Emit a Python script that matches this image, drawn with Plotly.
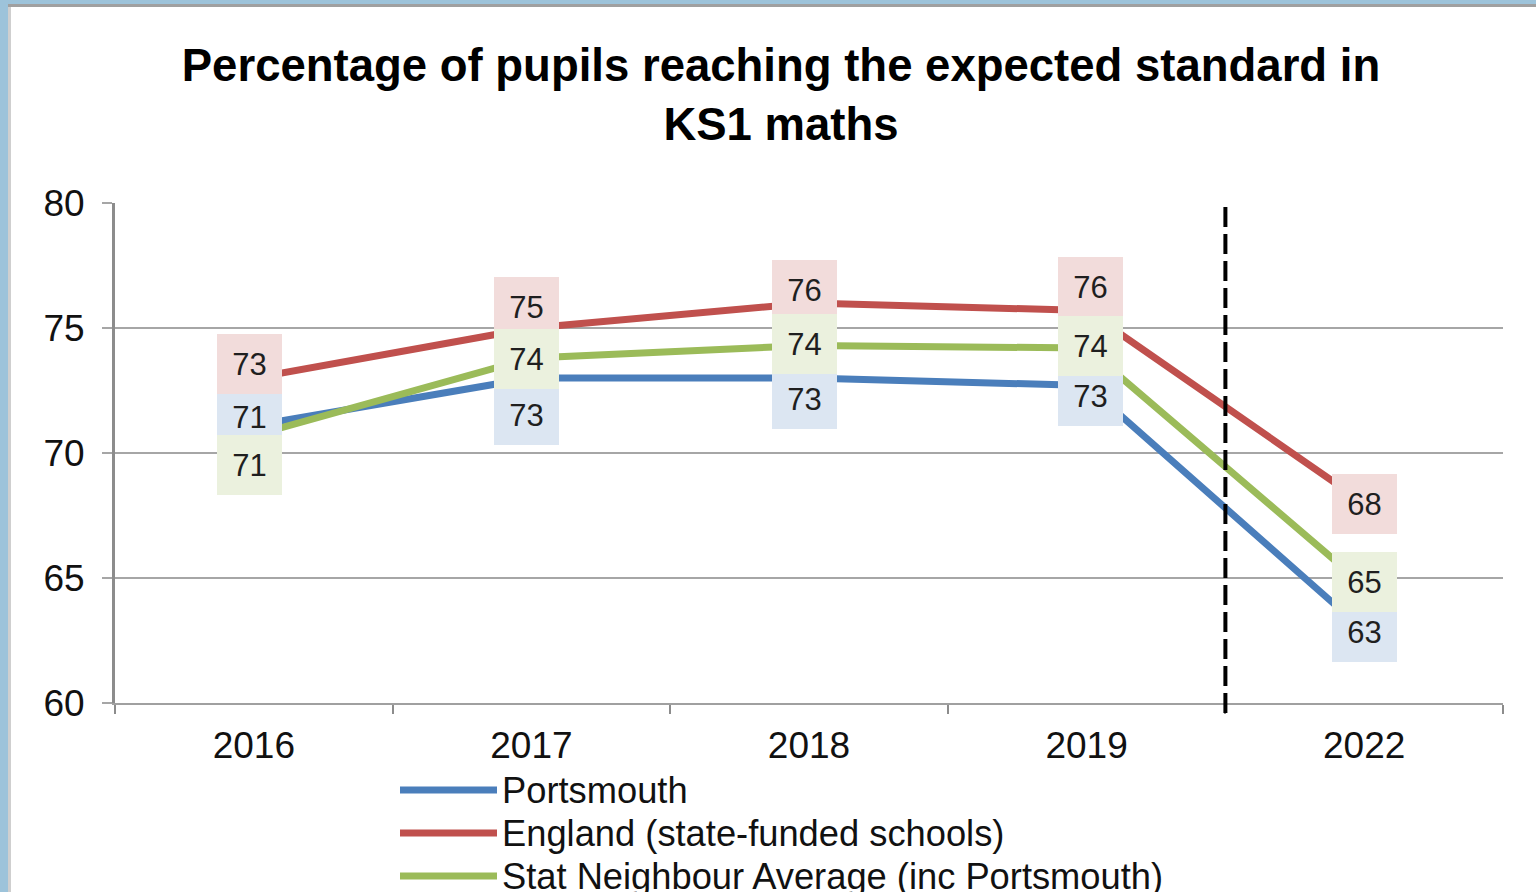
import plotly.graph_objects as go

# ---- data ----
years = ["2016", "2017", "2018", "2019", "2022"]
portsmouth = [71.1, 73.0, 73.0, 72.7, 62.9]
england = [73.0, 75.0, 76.0, 75.7, 68.0]
stat_neighbour = [70.7, 73.8, 74.3, 74.2, 64.7]
series_names = [
    "Portsmouth",
    "England (state-funded schools)",
    "Stat Neighbour Average (inc Portsmouth)",
]
y_ticks = [60, 65, 70, 75, 80]

# ---- styles ----
line_colors = ["#4A7EBB", "#C0504D", "#9BBB59"]
label_bg = ["#DCE6F2", "#F2DCDB", "#EBF1DE"]
# label offsets in pixels (down positive), per series per year
label_dy = [
    [-9, 37, 21, 10, 1],
    [-14, -21, -13, -24, 1],
    [29, 1, -2, -2, -4],
]
label_dx = [-4, -5, -5, 4, 0]

W, H = 1536, 892
L, R, T, B = 115, 33, 203, 189
PW, PH = W - L - R, H - T - B


def px2x(px):
    return (px - L) / PW


def py2y(py):
    return (H - B - py) / PH


FONT = "Liberation Sans, Arial, sans-serif"
all_series = [portsmouth, england, stat_neighbour]

fig = go.Figure()
for name, vals, col in zip(series_names, all_series, line_colors):
    fig.add_trace(
        go.Scatter(
            x=years,
            y=vals,
            mode="lines",
            name=name,
            line=dict(color=col, width=7),
            showlegend=False,
        )
    )

annotations = []
for s, vals in enumerate(all_series):
    for i, v in enumerate(vals):
        annotations.append(
            dict(
                x=i,  # category index of years[i]
                y=v,
                xref="x",
                yref="y",
                text=str(int(round(v))),
                showarrow=False,
                xanchor="center",
                yanchor="middle",
                xshift=label_dx[i],
                yshift=-label_dy[s][i],
                width=65,
                height=60,
                borderpad=0,
                borderwidth=0,
                bgcolor=label_bg[s],
                font=dict(family=FONT, size=31, color="#1F1F1F"),
            )
        )

# custom legend
legend_y = [790, 833, 876]
shapes = []
for name, col, ly in zip(series_names, line_colors, legend_y):
    shapes.append(
        dict(
            type="line",
            xref="paper",
            yref="paper",
            x0=px2x(400),
            x1=px2x(497),
            y0=py2y(ly),
            y1=py2y(ly),
            line=dict(color=col, width=7),
        )
    )
    annotations.append(
        dict(
            x=px2x(500),
            y=py2y(ly),
            xref="paper",
            yref="paper",
            text=name,
            showarrow=False,
            xanchor="left",
            yanchor="middle",
            font=dict(family=FONT, size=36.3, color="#111111"),
        )
    )

# dashed separator between 2019 and 2022
shapes.append(
    dict(
        type="line",
        xref="x",
        yref="paper",
        x0=3.5,
        x1=3.5,
        y0=py2y(713),
        y1=1,
        line=dict(color="black", width=4, dash="20px,7px"),
    )
)

# frame strips (left & top)
shapes += [
    dict(type="rect", xref="paper", yref="paper", x0=px2x(0), x1=px2x(8),
         y0=py2y(H), y1=py2y(0), fillcolor="#9DC3DA", line=dict(width=0), layer="above"),
    dict(type="rect", xref="paper", yref="paper", x0=px2x(8), x1=px2x(11),
         y0=py2y(H), y1=py2y(4), fillcolor="#CFCFCF", line=dict(width=0), layer="above"),
    dict(type="rect", xref="paper", yref="paper", x0=px2x(0), x1=px2x(W),
         y0=py2y(4), y1=py2y(0), fillcolor="#9DC3DA", line=dict(width=0), layer="above"),
    dict(type="rect", xref="paper", yref="paper", x0=px2x(8), x1=px2x(W),
         y0=py2y(7), y1=py2y(4), fillcolor="#A0A0A0", line=dict(width=0), layer="above"),
]

fig.update_layout(
    width=W,
    height=H,
    margin=dict(l=L, r=R, t=T, b=B, autoexpand=False),
    paper_bgcolor="white",
    plot_bgcolor="white",
    title=dict(
        text="Percentage of pupils reaching the expected standard in<br>KS1 maths",
        x=781 / W,
        xanchor="center",
        xref="container",
        y=1 - 81 / H,
        yanchor="top",
        yref="container",
        font=dict(family=FONT, size=45.5, color="black", weight="bold"),
    ),
    shapes=shapes,
    annotations=annotations,
    showlegend=False,
)

fig.update_xaxes(
    type="category",
    categoryorder="array",
    categoryarray=years,
    range=[-0.5, len(years) - 0.5],
    showgrid=False,
    showline=True,
    linecolor="#A0A0A0",
    linewidth=2,
    ticks="outside",
    tickson="boundaries",
    ticklen=9,
    tickwidth=2,
    tickcolor="#8C8C8C",
    ticklabelstandoff=9,
    tickfont=dict(family=FONT, size=37, color="#111111"),
    zeroline=False,
)
fig.update_yaxes(
    range=[60, 80],
    tickvals=y_ticks,
    showgrid=True,
    gridcolor="#A6A6A6",
    gridwidth=2,
    showline=True,
    linecolor="#8C8C8C",
    linewidth=3,
    ticks="outside",
    ticklen=10,
    tickwidth=2,
    tickcolor="#A6A6A6",
    ticklabelstandoff=10,
    tickfont=dict(family=FONT, size=37, color="#111111"),
    zeroline=False,
)

fig.write_html(
    "out.html",
    config={"displayModeBar": False},
    post_script="document.body.style.margin='0';document.body.style.overflow='hidden';",
)
